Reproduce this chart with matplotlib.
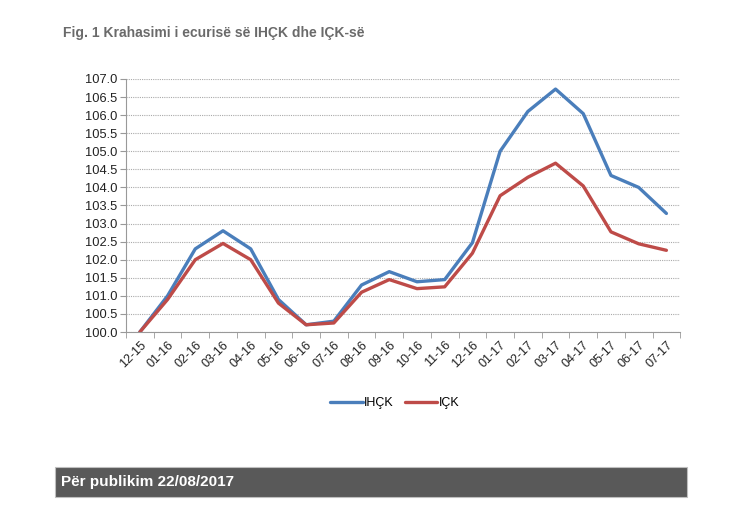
import matplotlib.pyplot as plt
import numpy as np
from matplotlib.patches import Rectangle

plt.rcParams['font.family'] = ['Liberation Sans', 'DejaVu Sans']

muajt = ['12-15', '01-16', '02-16', '03-16', '04-16', '05-16', '06-16', '07-16',
         '08-16', '09-16', '10-16', '11-16', '12-16', '01-17', '02-17', '03-17',
         '04-17', '05-17', '06-17', '07-17']
ihck = [100.0, 101.0, 102.3, 102.8, 102.3, 100.9, 100.2, 100.3, 101.3, 101.67,
        101.39, 101.45, 102.47, 105.0, 106.1, 106.72, 106.04, 104.33, 104.0, 103.28]
ick = [100.0, 100.9, 102.0, 102.45, 102.0, 100.8, 100.2, 100.25, 101.1, 101.45,
       101.2, 101.25, 102.18, 103.77, 104.28, 104.67, 104.04, 102.77, 102.44, 102.26]

fig = plt.figure(figsize=(7.5, 5.25), dpi=100)
ax = fig.add_axes([0.168, 0.3676, 0.739, 0.482])

x = np.arange(len(muajt))
ax.plot(x, ihck, color='#4A7EBB', lw=2.4, label='IHÇK', solid_capstyle='round')
ax.plot(x, ick, color='#BE4B48', lw=2.4, label='IÇK', solid_capstyle='round')

ax.set_xlim(-0.5, len(muajt) - 0.5)
ax.set_ylim(100, 107)
ax.set_yticks(np.arange(100, 107.01, 0.5))
ax.set_yticklabels(['%.1f' % v for v in np.arange(100, 107.01, 0.5)], fontsize=9.3,
                   color='#222222')
ax.set_xticks(x)
ax.set_xticklabels(muajt, rotation=45, ha='right', rotation_mode='anchor', fontsize=9,
                   color='#222222')
ax.set_xticks(np.arange(-0.5, len(muajt), 1), minor=True)
ax.tick_params(axis='x', which='major', length=0, pad=5)
ax.tick_params(axis='x', which='minor', length=4, color='#999999')
ax.tick_params(axis='y', length=4, color='#999999', pad=2)
ax.yaxis.grid(True, ls=(0, (1, 1)), color='#aaaaaa', lw=0.8)
ax.set_axisbelow(True)
for s in ['top', 'right']:
    ax.spines[s].set_visible(False)
for s in ['left', 'bottom']:
    ax.spines[s].set_color('#999999')

leg = fig.legend(loc='center', bbox_to_anchor=(0.526, 0.232), ncol=2, frameon=False,
                 fontsize=9, handlelength=2.6, handletextpad=0.1, columnspacing=0.9)

fig.text(0.084, 0.937, 'Fig. 1 Krahasimi i ecurisë së IHÇK dhe IÇK-së', fontsize=10,
         fontweight='bold', color='#6a6a6a', va='center')

fig.patches.append(Rectangle((0.073, 0.053), 0.843, 0.057, transform=fig.transFigure,
                             facecolor='#595959', edgecolor='#bfbfbf', lw=0.8))
fig.text(0.081, 0.081, 'Për publikim 22/08/2017', fontsize=11, fontweight='bold',
         color='white', va='center')

fig.savefig('out.png', dpi=100)
